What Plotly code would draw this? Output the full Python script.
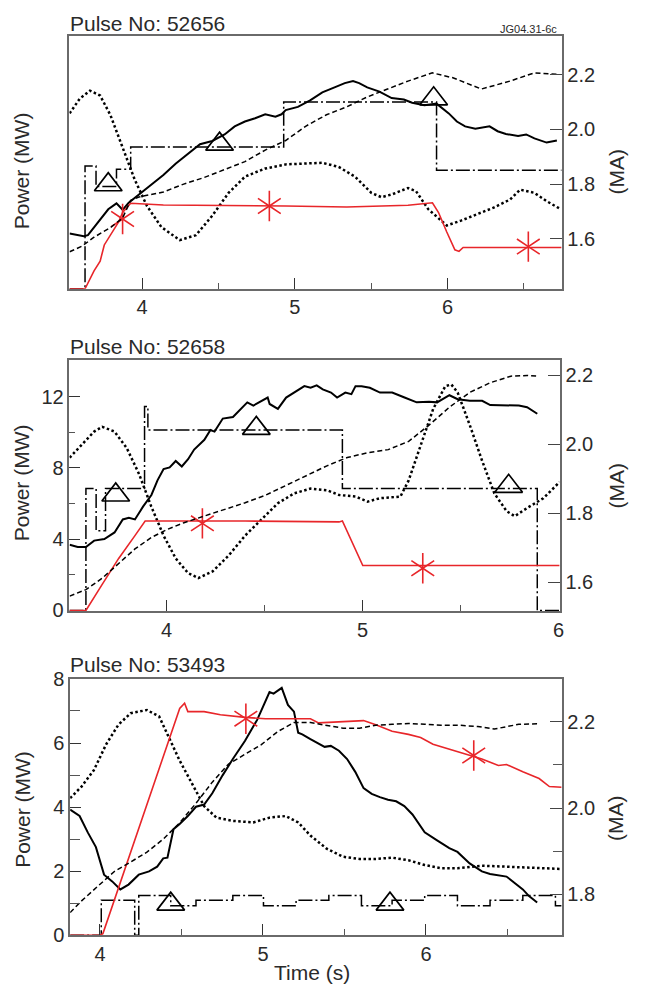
import plotly.graph_objects as go

# ---------------- Panel 1 : Pulse No 52656 ----------------
p1_t_solid = [3.525,3.618,3.645,3.712,3.778,3.832,3.872,3.912,3.952,4.005,4.072,4.139,4.219,4.299,4.379,4.459,4.540,4.606,4.673,4.740,4.806,4.873,4.913,4.940,5.020,5.100,5.180,5.260,5.327,5.381,5.421,5.474,5.554,5.634,5.714,5.768,5.848,5.928,6.008,6.061,6.115,6.182,6.275,6.328,6.382,6.462,6.515,6.569,6.649,6.716]
p1_solid = [3.06,2.92,2.97,3.69,4.41,4.74,4.38,4.77,5.05,5.41,5.86,6.31,6.94,7.48,8.02,8.20,8.56,9.01,9.28,9.46,9.68,9.55,9.68,9.91,10.09,10.45,10.90,11.17,11.41,11.53,11.41,11.17,10.94,10.58,10.50,10.32,10.18,10.27,9.73,9.28,9.01,8.88,9.01,8.74,8.59,8.47,8.56,8.34,8.11,8.23]
p1_t_dot = [3.525,3.591,3.658,3.725,3.792,3.872,3.952,4.032,4.126,4.246,4.352,4.459,4.566,4.673,4.806,4.940,5.180,5.287,5.394,5.501,5.567,5.634,5.741,5.794,5.874,5.995,6.088,6.195,6.302,6.409,6.475,6.569,6.649,6.742]
p1_dot = [9.73,10.54,10.99,10.72,9.64,7.84,6.04,4.59,3.42,2.70,2.97,4.05,5.32,6.22,6.67,6.90,6.99,6.76,6.22,5.32,5.08,5.23,5.59,5.41,4.41,3.51,3.78,4.14,4.50,4.95,5.50,5.32,4.86,4.41]
p1_t_ip = [3.525,3.605,3.685,3.792,3.872,3.925,3.979,4.139,4.272,4.406,4.540,4.673,4.806,4.940,5.073,5.207,5.340,5.474,5.607,5.741,5.901,6.035,6.222,6.409,6.569,6.729]
p1_ip = [1.553,1.573,1.606,1.641,1.676,1.741,1.753,1.771,1.800,1.824,1.853,1.882,1.924,1.959,2.012,2.053,2.082,2.118,2.147,2.176,2.206,2.188,2.147,2.176,2.206,2.200]
p1_t_step = [3.524,3.626,3.626,3.698,3.698,3.832,3.832,3.925,3.925,4.927,4.927,5.928,5.928,6.747]
p1_step = [0,0,6.81,6.81,5.68,5.68,6.63,6.63,7.87,7.87,10.36,10.36,6.58,6.58]
p1_t_tri = [3.778,4.507,5.909]
p1_tri = [5.77,8.02,10.54]
p1_t_red = [3.524,3.626,3.685,3.725,3.752,3.792,3.845,3.872,3.925,4.139,4.540,4.940,5.340,5.741,5.901,5.941,5.995,6.048,6.075,6.102,6.747]
p1_red = [0,0,0.99,1.53,2.43,2.97,3.69,4.23,4.74,4.65,4.63,4.59,4.54,4.63,4.77,4.23,3.15,2.16,2.07,2.29,2.29]
p1_t_star = [3.872,4.833,6.529]
p1_star = [3.87,4.59,2.34]

# ---------------- Panel 2 : Pulse No 52658 ----------------
p2_t_solid = [3.506,3.547,3.589,3.631,3.683,3.735,3.777,3.808,3.839,3.881,3.923,3.954,3.985,4.016,4.047,4.078,4.110,4.141,4.193,4.224,4.245,4.287,4.339,4.370,4.412,4.443,4.485,4.516,4.526,4.568,4.610,4.651,4.703,4.735,4.766,4.797,4.839,4.870,4.912,4.943,4.964,4.995,5.037,5.089,5.151,5.214,5.276,5.339,5.380,5.443,5.485,5.547,5.610,5.651,5.735,5.797,5.839,5.891]
p2_solid = [3.69,3.56,3.56,3.92,4.01,4.38,5.11,5.20,5.11,5.84,6.48,7.30,7.94,8.03,8.39,8.08,8.49,9.03,9.58,10.13,10.04,10.77,10.86,11.22,11.68,11.50,11.77,11.95,11.59,11.31,11.95,12.23,12.59,12.50,12.63,12.41,12.23,11.95,12.23,12.14,12.59,12.59,12.50,12.23,12.23,11.95,11.68,11.72,11.68,12.08,11.86,11.77,11.77,11.53,11.50,11.50,11.41,11.04]
p2_t_dot = [3.506,3.568,3.631,3.672,3.735,3.797,3.860,3.922,3.985,4.047,4.110,4.162,4.235,4.318,4.401,4.485,4.568,4.651,4.735,4.818,4.881,4.964,5.026,5.089,5.193,5.235,5.297,5.360,5.422,5.453,5.485,5.547,5.610,5.672,5.735,5.776,5.839,5.922,6.005]
p2_dot = [8.58,9.31,10.04,10.31,10.04,9.12,7.66,5.84,4.20,2.92,2.10,1.82,2.19,3.10,4.20,5.11,6.02,6.57,6.84,6.75,6.48,6.39,6.11,6.30,6.39,7.30,9.31,11.31,12.59,12.68,12.23,10.40,8.39,6.57,5.57,5.29,5.75,6.30,7.21]
p2_t_ip = [3.506,3.589,3.672,3.756,3.839,3.922,4.006,4.089,4.193,4.297,4.401,4.506,4.610,4.714,4.818,4.922,5.026,5.131,5.235,5.339,5.443,5.547,5.651,5.756,5.839,5.891]
p2_ip = [1.560,1.579,1.612,1.655,1.697,1.730,1.754,1.773,1.792,1.811,1.831,1.853,1.881,1.910,1.938,1.962,1.976,1.985,2.009,2.056,2.108,2.151,2.179,2.198,2.200,2.198]
p2_t_step = [3.505,3.589,3.589,3.641,3.641,3.689,3.689,3.888,3.888,3.905,3.905,4.897,4.897,5.891,5.891,6.005]
p2_step = [0,0,6.84,6.84,4.47,4.47,6.84,6.84,11.45,11.45,10.13,10.13,6.84,6.84,0,0]
p2_t_tri = [3.741,4.458,5.745]
p2_tri = [6.48,10.22,6.97]
p2_t_red = [3.505,3.589,3.672,3.756,3.839,3.891,4.401,4.880,4.897,5.001,6.005]
p2_red = [0,0,1.46,2.92,4.20,5.02,5.02,4.97,5.02,2.52,2.52]
p2_t_star = [4.183,5.307]
p2_star = [4.89,2.37]

# ---------------- Panel 3 : Pulse No 53493 ----------------
p3_t_solid = [3.817,3.875,3.925,3.975,4.025,4.075,4.125,4.175,4.238,4.301,4.351,4.388,4.414,4.451,4.489,4.539,4.589,4.639,4.689,4.752,4.815,4.890,4.965,5.040,5.065,5.115,5.153,5.190,5.216,5.241,5.291,5.341,5.378,5.416,5.466,5.516,5.566,5.617,5.667,5.717,5.767,5.817,5.867,5.917,5.992,6.068,6.143,6.193,6.268,6.343,6.393,6.494,6.544,6.594,6.632,6.682]
p3_solid = [3.92,3.72,3.21,2.75,1.89,1.68,1.43,1.58,1.89,1.99,2.14,2.40,2.42,3.31,3.47,3.72,4.01,4.08,4.43,4.99,5.50,6.07,6.73,7.59,7.54,7.72,7.19,6.98,6.32,6.27,6.12,5.98,5.88,5.91,5.76,5.50,5.10,4.59,4.41,4.31,4.23,4.18,4.03,3.77,3.21,2.96,2.72,2.60,2.24,1.99,1.91,1.83,1.63,1.43,1.22,1.02]
p3_t_dot = [3.817,3.887,3.962,4.038,4.113,4.188,4.288,4.363,4.414,4.489,4.564,4.639,4.714,4.815,4.940,5.040,5.140,5.216,5.291,5.391,5.491,5.591,5.692,5.792,5.892,5.992,6.093,6.193,6.343,6.494,6.644,6.820]
p3_dot = [4.28,4.64,5.15,5.96,6.57,6.93,7.03,6.83,6.27,5.45,4.74,4.03,3.67,3.57,3.52,3.67,3.72,3.52,3.11,2.70,2.45,2.38,2.38,2.42,2.34,2.19,2.09,2.09,2.17,2.14,2.09,2.07]
p3_t_ip = [3.817,3.887,3.987,4.088,4.188,4.288,4.388,4.489,4.589,4.689,4.789,4.890,4.990,5.090,5.190,5.291,5.391,5.491,5.591,5.692,5.792,5.892,5.992,6.093,6.193,6.318,6.419,6.494,6.569,6.682]
p3_ip = [1.758,1.785,1.819,1.853,1.875,1.898,1.928,1.966,2.011,2.060,2.102,2.125,2.147,2.177,2.198,2.198,2.192,2.185,2.185,2.192,2.194,2.196,2.194,2.192,2.192,2.189,2.183,2.189,2.194,2.195]
p3_t_step = [3.817,4.008,4.008,4.213,4.213,4.238,4.238,4.434,4.434,4.589,4.589,4.815,4.815,5.003,5.003,5.203,5.203,5.404,5.404,5.604,5.604,5.792,5.792,5.992,5.992,6.193,6.193,6.393,6.393,6.594,6.594,6.794,6.794,6.832]
p3_step = [0,0,1.09,1.09,0,0,1.24,1.24,0.92,0.92,1.09,1.09,1.24,1.24,0.92,0.92,1.09,1.09,1.24,1.24,0.92,0.92,1.09,1.09,1.24,1.24,0.92,0.92,1.09,1.09,1.24,1.24,0.92,0.92]
p3_t_tri = [4.434,5.779]
p3_tri = [0.97,0.97]
p3_t_red = [3.817,4.000,4.018,4.489,4.519,4.539,4.639,4.739,4.890,5.015,5.140,5.291,5.341,5.491,5.617,5.692,5.792,5.892,5.967,6.043,6.143,6.243,6.343,6.444,6.494,6.594,6.694,6.757,6.832]
p3_red = [0,0,0.05,7.08,7.24,6.98,6.98,6.88,6.80,6.76,6.76,6.76,6.63,6.68,6.70,6.57,6.37,6.27,6.17,5.96,5.81,5.66,5.50,5.30,5.33,5.10,4.89,4.64,4.62]
p3_t_star = [4.895,6.293]
p3_star = [6.76,5.61]

pulse_labels = ["Pulse No: 52656", "Pulse No: 52658", "Pulse No: 53493"]
time_ticks = [4, 5, 6]

W, H = 645, 999
RED = "#e8262a"
FONT = "Liberation Sans, Arial, Helvetica, sans-serif"
TXT = "#2a2a2a"

def px(x):
    return x / W

def py(y):
    return 1 - y / H

fig = go.Figure()

def add_line(x, y, xa, ya, color="black", width=2.0, dash="solid"):
    fig.add_trace(go.Scatter(x=x, y=y, xaxis=xa, yaxis=ya, mode="lines",
                             line=dict(color=color, width=width, dash=dash),
                             showlegend=False, hoverinfo="skip"))

def add_tri(x, y, xa, ya):
    fig.add_trace(go.Scatter(x=x, y=y, xaxis=xa, yaxis=ya, mode="markers",
                             marker=dict(symbol="triangle-up-open", size=24, color="black",
                                         line=dict(color="black", width=1.7)),
                             showlegend=False, hoverinfo="skip"))

def add_star(x, y, xa, ya):
    for sym in ["y-up-open", "y-down-open"]:
        fig.add_trace(go.Scatter(x=x, y=y, xaxis=xa, yaxis=ya, mode="markers",
                                 marker=dict(symbol=sym, size=19, color=RED,
                                             line=dict(color=RED, width=1.6)),
                                 showlegend=False, hoverinfo="skip"))

DOT = "2.5px,2.5px"
DASH = "5px,3px"
DASHDOT = "14px,3px,2px,3px"

panels = [
    ("x", "y", "y4", p1_t_solid, p1_solid, p1_t_dot, p1_dot, p1_t_ip, p1_ip, p1_t_step, p1_step,
     p1_t_tri, p1_tri, p1_t_red, p1_red, p1_t_star, p1_star),
    ("x2", "y2", "y5", p2_t_solid, p2_solid, p2_t_dot, p2_dot, p2_t_ip, p2_ip, p2_t_step, p2_step,
     p2_t_tri, p2_tri, p2_t_red, p2_red, p2_t_star, p2_star),
    ("x3", "y3", "y6", p3_t_solid, p3_solid, p3_t_dot, p3_dot, p3_t_ip, p3_ip, p3_t_step, p3_step,
     p3_t_tri, p3_tri, p3_t_red, p3_red, p3_t_star, p3_star),
]

for (xa, ya, yr, ts, s, td, d, ti, ip, tst, st, ttr, tr, trd, rd, tsr, sr) in panels:
    add_line(ti, ip, xa, yr, width=1.5, dash=DASH)
    add_line(td, d, xa, ya, width=2.5, dash=DOT)
    add_line(tst, st, xa, ya, width=1.5, dash=DASHDOT)
    add_line(ts, s, xa, ya, width=2.0)
    add_line(trd, rd, xa, ya, color=RED, width=1.6)
    add_tri(ttr, tr, xa, ya)
    add_star(tsr, sr, xa, ya)

# Panel geometry (pixels)
boxes = [
    dict(l=70, r=566, t=26, b=284, xr=[3.524, 6.747], yl=[0, 14], yrr=[1.418, 2.339]),
    dict(l=70, r=564, t=357, b=613.5, xr=[3.505, 6.005], yl=[-0.03, 14.05], yrr=[1.517, 2.2445]),
    dict(l=70.7, r=566, t=683, b=945, xr=[3.817, 6.832], yl=[0, 8], yrr=[1.7056, 2.299]),
]

BOX = "#6a6a6a"
tickfont = dict(family=FONT, size=20, color=TXT)

layout = dict(width=W, height=H, margin=dict(l=0, r=0, t=0, b=0),
              paper_bgcolor="white", plot_bgcolor="white", showlegend=False)

xnames = ["xaxis", "xaxis2", "xaxis3"]
ylnames = ["yaxis", "yaxis2", "yaxis3"]
yrnames = ["yaxis4", "yaxis5", "yaxis6"]
xids = ["x", "x2", "x3"]
ylids = ["y", "y2", "y3"]

for i, bx in enumerate(boxes):
    xd = [px(bx["l"]), px(bx["r"])]
    yd = [py(bx["b"]), py(bx["t"])]
    layout[xnames[i]] = dict(domain=xd, anchor=ylids[i], range=bx["xr"],
                             tickvals=time_ticks, ticktext=[str(v) for v in time_ticks],
                             ticks="inside", ticklen=11, tickwidth=1.3, tickcolor="#333",
                             minor=dict(tickvals=[4.5, 5.5, 6.5], ticks="inside", ticklen=6,
                                        tickwidth=1.2, tickcolor="#555"),
                             showline=True, linecolor=BOX, linewidth=1.5, mirror=True,
                             showgrid=False, zeroline=False, tickfont=tickfont)
    yl = dict(domain=yd, anchor=xids[i], range=bx["yl"], showline=True, linecolor=BOX,
              linewidth=1.5, showgrid=False, zeroline=False, tickfont=tickfont)
    if i == 0:
        yl.update(showticklabels=False, ticks="")
    elif i == 1:
        yl.update(tickvals=[0, 4, 8, 12], ticks="inside", ticklen=11, tickwidth=1.3,
                  tickcolor="#333",
                  minor=dict(tickvals=[2, 6, 10], ticks="inside", ticklen=6, tickwidth=1.2,
                             tickcolor="#555"))
    else:
        yl.update(tickvals=[0, 2, 4, 6, 8], ticks="inside", ticklen=11, tickwidth=1.3,
                  tickcolor="#333",
                  minor=dict(tickvals=[1, 3, 5, 7], ticks="inside", ticklen=10, tickwidth=1.2,
                             tickcolor="#555"))
    layout[ylnames[i]] = yl
    if i < 2:
        rv = [1.6, 1.8, 2.0, 2.2]
        rminor = []
    else:
        rv = [1.8, 2.0, 2.2]
        rminor = [1.9, 2.1, 2.3]
    yr = dict(overlaying=ylids[i], side="right", anchor=xids[i], range=bx["yrr"],
              tickvals=rv, ticktext=["%.1f" % v for v in rv],
              ticks="inside", ticklen=12, tickwidth=1.3, tickcolor="#444",
              showline=True, linecolor=BOX, linewidth=1.5, showgrid=False, zeroline=False,
              tickfont=tickfont)
    if rminor:
        yr["minor"] = dict(tickvals=rminor, ticks="inside", ticklen=9, tickwidth=1.2,
                           tickcolor="#555")
    layout[yrnames[i]] = yr

annos = []
title_y = [12.5, 343.5, 668.5]
power_y = [163, 482, 816]
ma_y = [164, 485, 825]
for i in range(3):
    annos.append(dict(text=pulse_labels[i], x=px(69), y=py(title_y[i]), xref="paper", yref="paper",
                      xanchor="left", yanchor="middle", showarrow=False,
                      font=dict(family=FONT, size=21, color=TXT)))
    annos.append(dict(text="Power (MW)", x=px(22), y=py(power_y[i]), xref="paper", yref="paper",
                      xanchor="center", yanchor="middle", showarrow=False, textangle=-90,
                      font=dict(family=FONT, size=21, color=TXT)))
    annos.append(dict(text="(MA)", x=px(621), y=py(ma_y[i]), xref="paper", yref="paper",
                      xanchor="center", yanchor="middle", showarrow=False, textangle=-90,
                      font=dict(family=FONT, size=21, color=TXT)))
annos.append(dict(text="Time (s)", x=px(314), y=py(983), xref="paper", yref="paper",
                  xanchor="center", yanchor="middle", showarrow=False,
                  font=dict(family=FONT, size=21, color=TXT)))
annos.append(dict(text="JG04.31-6c", x=px(563), y=py(18), xref="paper", yref="paper",
                  xanchor="right", yanchor="middle", showarrow=False,
                  font=dict(family=FONT, size=11, color=TXT)))
layout["annotations"] = annos

fig.update_layout(**layout)
fig.write_html("out.html",
               config={"displayModeBar": False},
               post_script="document.body.style.margin='0';document.body.style.padding='0';"
                           "document.body.style.overflow='hidden';")
